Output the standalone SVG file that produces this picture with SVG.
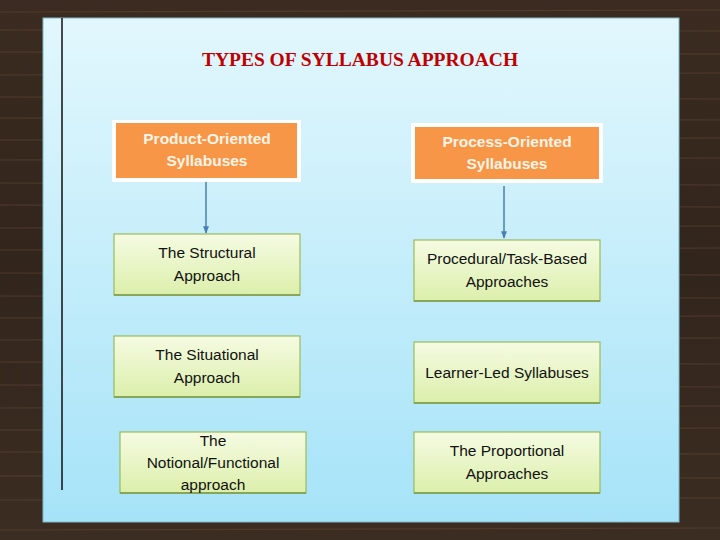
<svg xmlns="http://www.w3.org/2000/svg" width="720" height="540" viewBox="0 0 720 540">
<defs>
<linearGradient id="panel" x1="0" y1="0" x2="0" y2="1">
<stop offset="0" stop-color="#e2f7fd"/>
<stop offset="1" stop-color="#a6e3f8"/>
</linearGradient>
<linearGradient id="green" x1="0" y1="0" x2="0" y2="1">
<stop offset="0" stop-color="#f5fbe2"/>
<stop offset="1" stop-color="#dcefab"/>
</linearGradient>
<linearGradient id="wood" x1="0" y1="0" x2="0" y2="1">
<stop offset="0" stop-color="#3b2b20"/>
<stop offset="0.5" stop-color="#32251b"/>
<stop offset="1" stop-color="#3c2d22"/>
</linearGradient>
<marker id="arr" viewBox="0 0 10 10" refX="9" refY="5" markerWidth="5" markerHeight="5" orient="auto">
<path d="M0,1 L10,5 L0,9 z" fill="#4a7eb5"/>
</marker>
</defs>
<style>
.lbl{font-family:"Liberation Sans",Arial,sans-serif;font-size:15.5px;text-anchor:middle;fill:#111}
.top{font-family:"Liberation Sans",Arial,sans-serif;font-size:15.5px;font-weight:bold;text-anchor:middle;fill:#fff4e8}
.gbox{fill:url(#green);stroke:#9bbb59;stroke-width:1.2}
.shadow{fill:none;stroke:#7a9a48;stroke-width:1.5}
.obox{fill:#f79646}
.wbox{fill:#ffffff}
.conn{stroke:#4a7eb5;stroke-width:1.5;fill:none}
.grain{stroke:#5a4433;stroke-width:1.2;opacity:0.7}
</style>
<rect width="720" height="540" fill="url(#wood)"/>
<g>
<line x1="0" y1="12" x2="720" y2="10" class="grain"/>
<line x1="0" y1="30" x2="720" y2="31" class="grain"/>
<line x1="0" y1="52" x2="720" y2="54" class="grain"/>
<line x1="0" y1="75" x2="720" y2="73" class="grain"/>
<line x1="0" y1="97" x2="720" y2="99" class="grain"/>
<line x1="0" y1="118" x2="720" y2="120" class="grain"/>
<line x1="0" y1="140" x2="720" y2="138" class="grain"/>
<line x1="0" y1="160" x2="720" y2="158" class="grain"/>
<line x1="0" y1="183" x2="720" y2="185" class="grain"/>
<line x1="0" y1="205" x2="720" y2="207" class="grain"/>
<line x1="0" y1="228" x2="720" y2="226" class="grain"/>
<line x1="0" y1="250" x2="720" y2="248" class="grain"/>
<line x1="0" y1="273" x2="720" y2="275" class="grain"/>
<line x1="0" y1="296" x2="720" y2="298" class="grain"/>
<line x1="0" y1="318" x2="720" y2="316" class="grain"/>
<line x1="0" y1="340" x2="720" y2="338" class="grain"/>
<line x1="0" y1="362" x2="720" y2="364" class="grain"/>
<line x1="0" y1="385" x2="720" y2="387" class="grain"/>
<line x1="0" y1="408" x2="720" y2="406" class="grain"/>
<line x1="0" y1="430" x2="720" y2="428" class="grain"/>
<line x1="0" y1="452" x2="720" y2="454" class="grain"/>
<line x1="0" y1="476" x2="720" y2="478" class="grain"/>
<line x1="0" y1="500" x2="720" y2="498" class="grain"/>
<line x1="0" y1="530" x2="720" y2="528" class="grain"/>
</g>
<rect x="43" y="18" width="636" height="504" fill="url(#panel)" stroke="#7fb8c8" stroke-width="1"/>
<line x1="62" y1="18" x2="62" y2="490" stroke="#111" stroke-width="1.5"/>
<text x="360" y="66" font-family="'Liberation Serif','Times New Roman',serif" font-size="19.5" font-weight="bold" fill="#c00000" text-anchor="middle">TYPES OF SYLLABUS APPROACH</text>
<g id="connectors">
<line x1="206" y1="182" x2="206" y2="233" class="conn" marker-end="url(#arr)"/>
<line x1="504" y1="186" x2="504" y2="238" class="conn" marker-end="url(#arr)"/>
</g>
<g id="product">
<rect x="112" y="120" width="189" height="62" class="wbox"/>
<rect x="116" y="123" width="181" height="55" class="obox"/>
<text x="207" y="144" class="top">Product-Oriented</text>
<text x="207" y="166" class="top">Syllabuses</text>
</g>
<g id="process">
<rect x="411" y="123" width="192" height="60" class="wbox"/>
<rect x="415" y="127" width="184" height="52" class="obox"/>
<text x="507" y="147" class="top">Process-Oriented</text>
<text x="507" y="169" class="top">Syllabuses</text>
</g>
<g id="structural">
<rect x="114" y="234" width="186" height="61" class="gbox"/>
<line x1="114" y1="295" x2="300" y2="295" class="shadow"/>
<text x="207" y="258" class="lbl">The Structural</text>
<text x="207" y="281" class="lbl">Approach</text>
</g>
<g id="procedural">
<rect x="414" y="240" width="186" height="61" class="gbox"/>
<line x1="414" y1="301" x2="600" y2="301" class="shadow"/>
<text x="507" y="264" class="lbl">Procedural/Task-Based</text>
<text x="507" y="287" class="lbl">Approaches</text>
</g>
<g id="situational">
<rect x="114" y="336" width="186" height="61" class="gbox"/>
<line x1="114" y1="397" x2="300" y2="397" class="shadow"/>
<text x="207" y="360" class="lbl">The Situational</text>
<text x="207" y="383" class="lbl">Approach</text>
</g>
<g id="learner">
<rect x="414" y="342" width="186" height="61" class="gbox"/>
<line x1="414" y1="403" x2="600" y2="403" class="shadow"/>
<text x="507" y="378" class="lbl">Learner-Led Syllabuses</text>
</g>
<g id="notional">
<rect x="120" y="432" width="186" height="61" class="gbox"/>
<line x1="120" y1="493" x2="306" y2="493" class="shadow"/>
<text x="213" y="446" class="lbl">The</text>
<text x="213" y="468" class="lbl">Notional/Functional</text>
<text x="213" y="490" class="lbl">approach</text>
</g>
<g id="proportional">
<rect x="414" y="432" width="186" height="61" class="gbox"/>
<line x1="414" y1="493" x2="600" y2="493" class="shadow"/>
<text x="507" y="456" class="lbl">The Proportional</text>
<text x="507" y="479" class="lbl">Approaches</text>
</g>
</svg>
